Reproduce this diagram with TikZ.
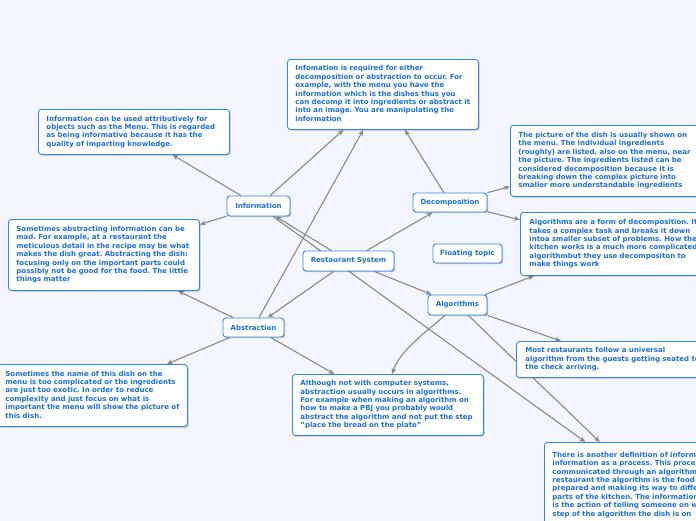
\documentclass[tikz,border=0pt]{standalone}
\usepackage{fontspec}
\setmainfont{DejaVu Sans}
\usetikzlibrary{arrows.meta,shadows}
\definecolor{bgc}{RGB}{244,246,253}
\definecolor{bord}{RGB}{52,134,228}
\definecolor{txt}{RGB}{28,112,214}
\definecolor{lnc}{RGB}{136,136,136}
\pgfdeclarelayer{back}
\pgfdeclarelayer{lines}
\pgfsetlayers{back,lines,main}
\frenchspacing
\tikzset{
  topic/.style={draw=bord, line width=0.9pt, fill=white, rounded corners=3pt,
    text=txt, font=\fontsize{7}{8.4}\selectfont\bfseries\frenchspacing, inner sep=0pt,
    drop shadow={shadow xshift=1.2pt, shadow yshift=-1.2pt, opacity=0.22, fill=black}},
  smalltopic/.style={topic, align=center},
  bigbox/.style={topic, anchor=north west, align=left, inner xsep=8pt},
  conn/.style={draw=lnc, line width=1.1pt, -{Stealth[length=6pt,width=5pt]}},
}
\newcommand{\tl}[1]{\begin{tabular}{@{}l@{}}#1\end{tabular}}
\begin{document}
\begin{tikzpicture}[x=1pt,y=-1pt]
\useasboundingbox (0,0) rectangle (696,520);
\clip (0,0) rectangle (696,520);
\begin{pgfonlayer}{back}
\fill[bgc] (-5,-5) rectangle (701,525);
\end{pgfonlayer}

% small topics
\node[smalltopic, minimum width=63pt, minimum height=20pt] (info) at (258.5,206) {Information};
\node[smalltopic, minimum width=91pt, minimum height=20pt] (rest) at (348.5,261) {Restaurant System};
\node[smalltopic, minimum width=74pt, minimum height=19pt] (decomp) at (450,202.5) {Decomposition};
\node[smalltopic, minimum width=69pt, minimum height=19pt] (float) at (467.5,253.5) {Floating topic};
\node[smalltopic, minimum width=59pt, minimum height=20pt] (alg) at (457.5,305) {Algorithms};
\node[smalltopic, minimum width=61pt, minimum height=19pt] (abstr) at (253.5,327.5) {Abstraction};

% big boxes
\node[bigbox, minimum width=191pt, minimum height=70pt, text width=175pt] (inforeq) at (287,59) {\tl{%
Infomation is required for either\\
decomposition or abstraction to occur. For\\
example, with the menu you have the\\
information which is the dishes thus you\\
can decomp it into ingredients or abstract it\\
into an image. You are manipulating the\\
information}};

\node[bigbox, minimum width=191pt, minimum height=45pt, text width=175pt] (infoattr) at (38,109) {\tl{%
Information can be used attributively for\\
objects such as the Menu. This is regarded\\
as being informative because it has the\\
quality of imparting knowledge.}};

\node[bigbox, minimum width=191pt, minimum height=71pt, text width=175pt] (abstrmad) at (8,219) {\tl{%
Sometimes abstracting information can be\\
mad. For example, at a restaurant the\\
meticulous detail in the recipe may be what\\
makes the dish great. Abstracting the dish:\\
focusing only on the important parts could\\
possibly not be good for the food. The little\\
things matter}};

\node[bigbox, minimum width=195pt, minimum height=71pt, text width=179pt, inner xsep=7.5pt] (picture) at (510,125) {\tl{%
The picture of the dish is usually shown on\\
the menu. The individual ingredients\\
(roughly) are listed, also on the menu, near\\
the picture. The ingredients listed can be\\
considered decomposition because it is\\
breaking down the complex picture into\\
smaller more understandable ingredients}};

\node[bigbox, minimum width=195pt, minimum height=63pt, text width=177pt, inner xsep=9pt] (algform) at (520,212) {\tl{%
Algorithms are a form of decomposition. It\\
takes a complex task and breaks it down\\
intoa smaller subset of problems. How the\\
kitchen works is a much more complicated\\
algorithmbut they use decompositon to\\
make things work}};

\node[bigbox, minimum width=190pt, minimum height=62pt, text width=174pt] (namedish) at (-3,364) {\tl{%
Sometimes the name of this dish on the\\
menu is too complicated or the ingredients\\
are just too exotic. In order to reduce\\
complexity and just focus on what is\\
important the menu will show the picture of\\
this dish.}};

\node[bigbox, minimum width=191pt, minimum height=61pt, text width=175pt] (although) at (292,374) {\tl{%
Although not with computer systems,\\
abstraction usually occurs in algorithms.\\
For example when making an algorithm on\\
how to make a PBJ you probably would\\
abstract the algorithm and not put the step\\
"place the bread on the plate"}};

\node[bigbox, minimum width=195pt, minimum height=36pt, text width=177pt, inner xsep=9pt] (mostrest) at (516,341) {\tl{%
Most restaurants follow a universal\\
algorithm from the guests getting seated to\\
the check arriving.}};

\node[bigbox, minimum width=200pt, minimum height=85pt, text width=184pt] (another) at (544,442) {\tl{%
There is another definition of information:\\
information as a process. This process is\\
communicated through an algorithm. In a\\
restaurant the algorithm is the food being\\
prepared and making its way to different\\
parts of the kitchen. The information\\
is the action of telling someone on what\\
step of the algorithm the dish is on}};

% connectors
\begin{pgfonlayer}{lines}
\draw[conn] (rest) -- (info);
\draw[conn] (rest) -- (decomp);
\draw[conn] (rest) -- (alg);
\draw[conn] (rest) -- (abstr);
\draw[conn] (info) -- (inforeq);
\draw[conn] (info) -- (infoattr);
\draw[conn] (info) -- (abstrmad);
\draw[conn] (info) -- (another);
\draw[conn] (abstr) -- (abstrmad);
\draw[conn] (abstr) -- (namedish);
\draw[conn] (abstr) -- (although);
\draw[conn] (abstr) -- (inforeq);
\draw[conn] (decomp) -- (inforeq);
\draw[conn] (decomp) -- (picture);
\draw[conn] (decomp) -- (algform);
\draw[conn] (alg) -- (algform);
\draw[conn] (alg) -- (mostrest);
\draw[conn] (alg) -- (another);
\draw[conn] (alg) .. controls (418,338) and (400,352) .. (392,0 |- although.north);
\end{pgfonlayer}
\end{tikzpicture}
\end{document}
